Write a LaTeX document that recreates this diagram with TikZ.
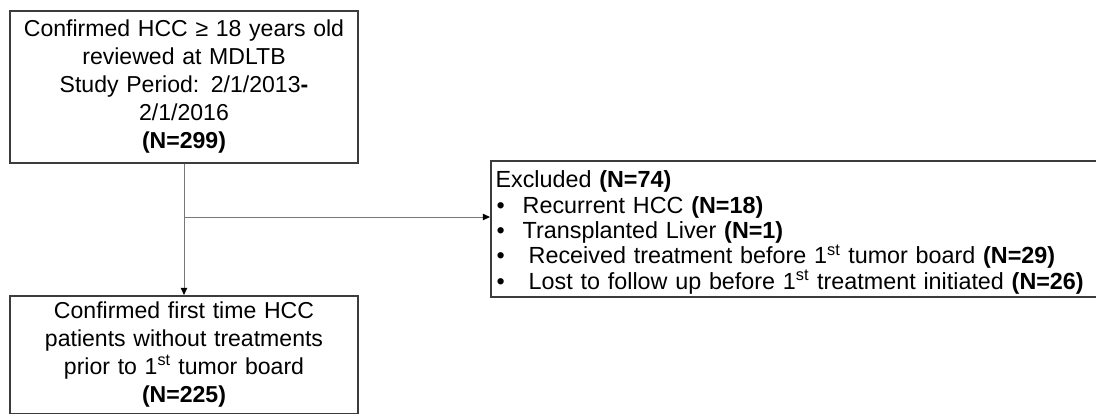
\documentclass[tikz,border=0pt]{standalone}
\usepackage{fontspec}
\setmainfont{Liberation Sans}
\usepackage{tikz}
\usetikzlibrary{arrows.meta, positioning, calc}
\definecolor{boxline}{RGB}{60,60,60}
\definecolor{linkgray}{RGB}{120,120,120}
\newcommand{\exfont}{\fontsize{16.6}{18}\selectfont\setlength{\lineskiplimit}{-10pt}}
\tikzset{
  %% ---- boxes ----
  flowbox/.style = {rectangle, draw=boxline, line width=1.1pt,
                    fill=white, text width=#1, align=center,
                    inner xsep=0.2cm, inner ysep=0.15cm,
                    font=\fontsize{16.4}{20}\selectfont},
  flowbox/.default = 8.3cm,
  exclbox/.style = {rectangle, draw=boxline, line width=1.1pt,
                    fill=white, text width=15.1cm, align=left,
                    inner xsep=0.12cm, inner ysep=0.08cm,
                    font=\exfont},
  %% ---- arrows ----
  link/.style  = {-{Triangle[length=0.18cm, width=0.16cm, color=black]},
                  line width=0.7pt, color=linkgray},
}
\newcommand{\exitem}[2]{\hspace*{0.025cm}\textbullet\hspace*{#1}#2}

\begin{document}
\begin{tikzpicture}

  \useasboundingbox (0,0) rectangle (27.4,-10.45);

  %% screening box (top)
  \node[flowbox, minimum height=3.8cm, anchor=north]
    (screen) at (4.6,-0.25)
    {Confirmed HCC ≥ 18 years old\\
     reviewed at MDLTB\\
     Study Period: 2/1/2013\textbf{-}\\
     2/1/2016\\
     \textbf{(N=299)}};

  %% included box (bottom)
  \node[flowbox, anchor=north]
    (cohort) at (4.6,-7.375)
    {Confirmed first time HCC\\
     patients without treatments\\
     prior to 1\textsuperscript{st} tumor board\\
     \textbf{(N=225)}};

  %% excluded box (right)
  \node[exclbox, anchor=north west]
    (excl) at (12.25,-4.0)
    {\rule{0pt}{0.6cm}Excluded \textbf{(N=74)}\\
     \exitem{0.45cm}{Recurrent HCC \textbf{(N=18)}}\\
     \exitem{0.45cm}{Transplanted Liver \textbf{(N=1)}}\\
     \exitem{0.6cm}{Received treatment before 1\textsuperscript{st} tumor board \textbf{(N=29)}}\\
     \exitem{0.6cm}{Lost to follow up before 1\textsuperscript{st} treatment initiated \textbf{(N=26)}}};

  %% connectors
  \coordinate (split) at (4.6,-5.425);
  \draw[link] (screen.south) -- (cohort.north);
  \draw[link] (split) -- (split -| excl.west);

\end{tikzpicture}
\end{document}
